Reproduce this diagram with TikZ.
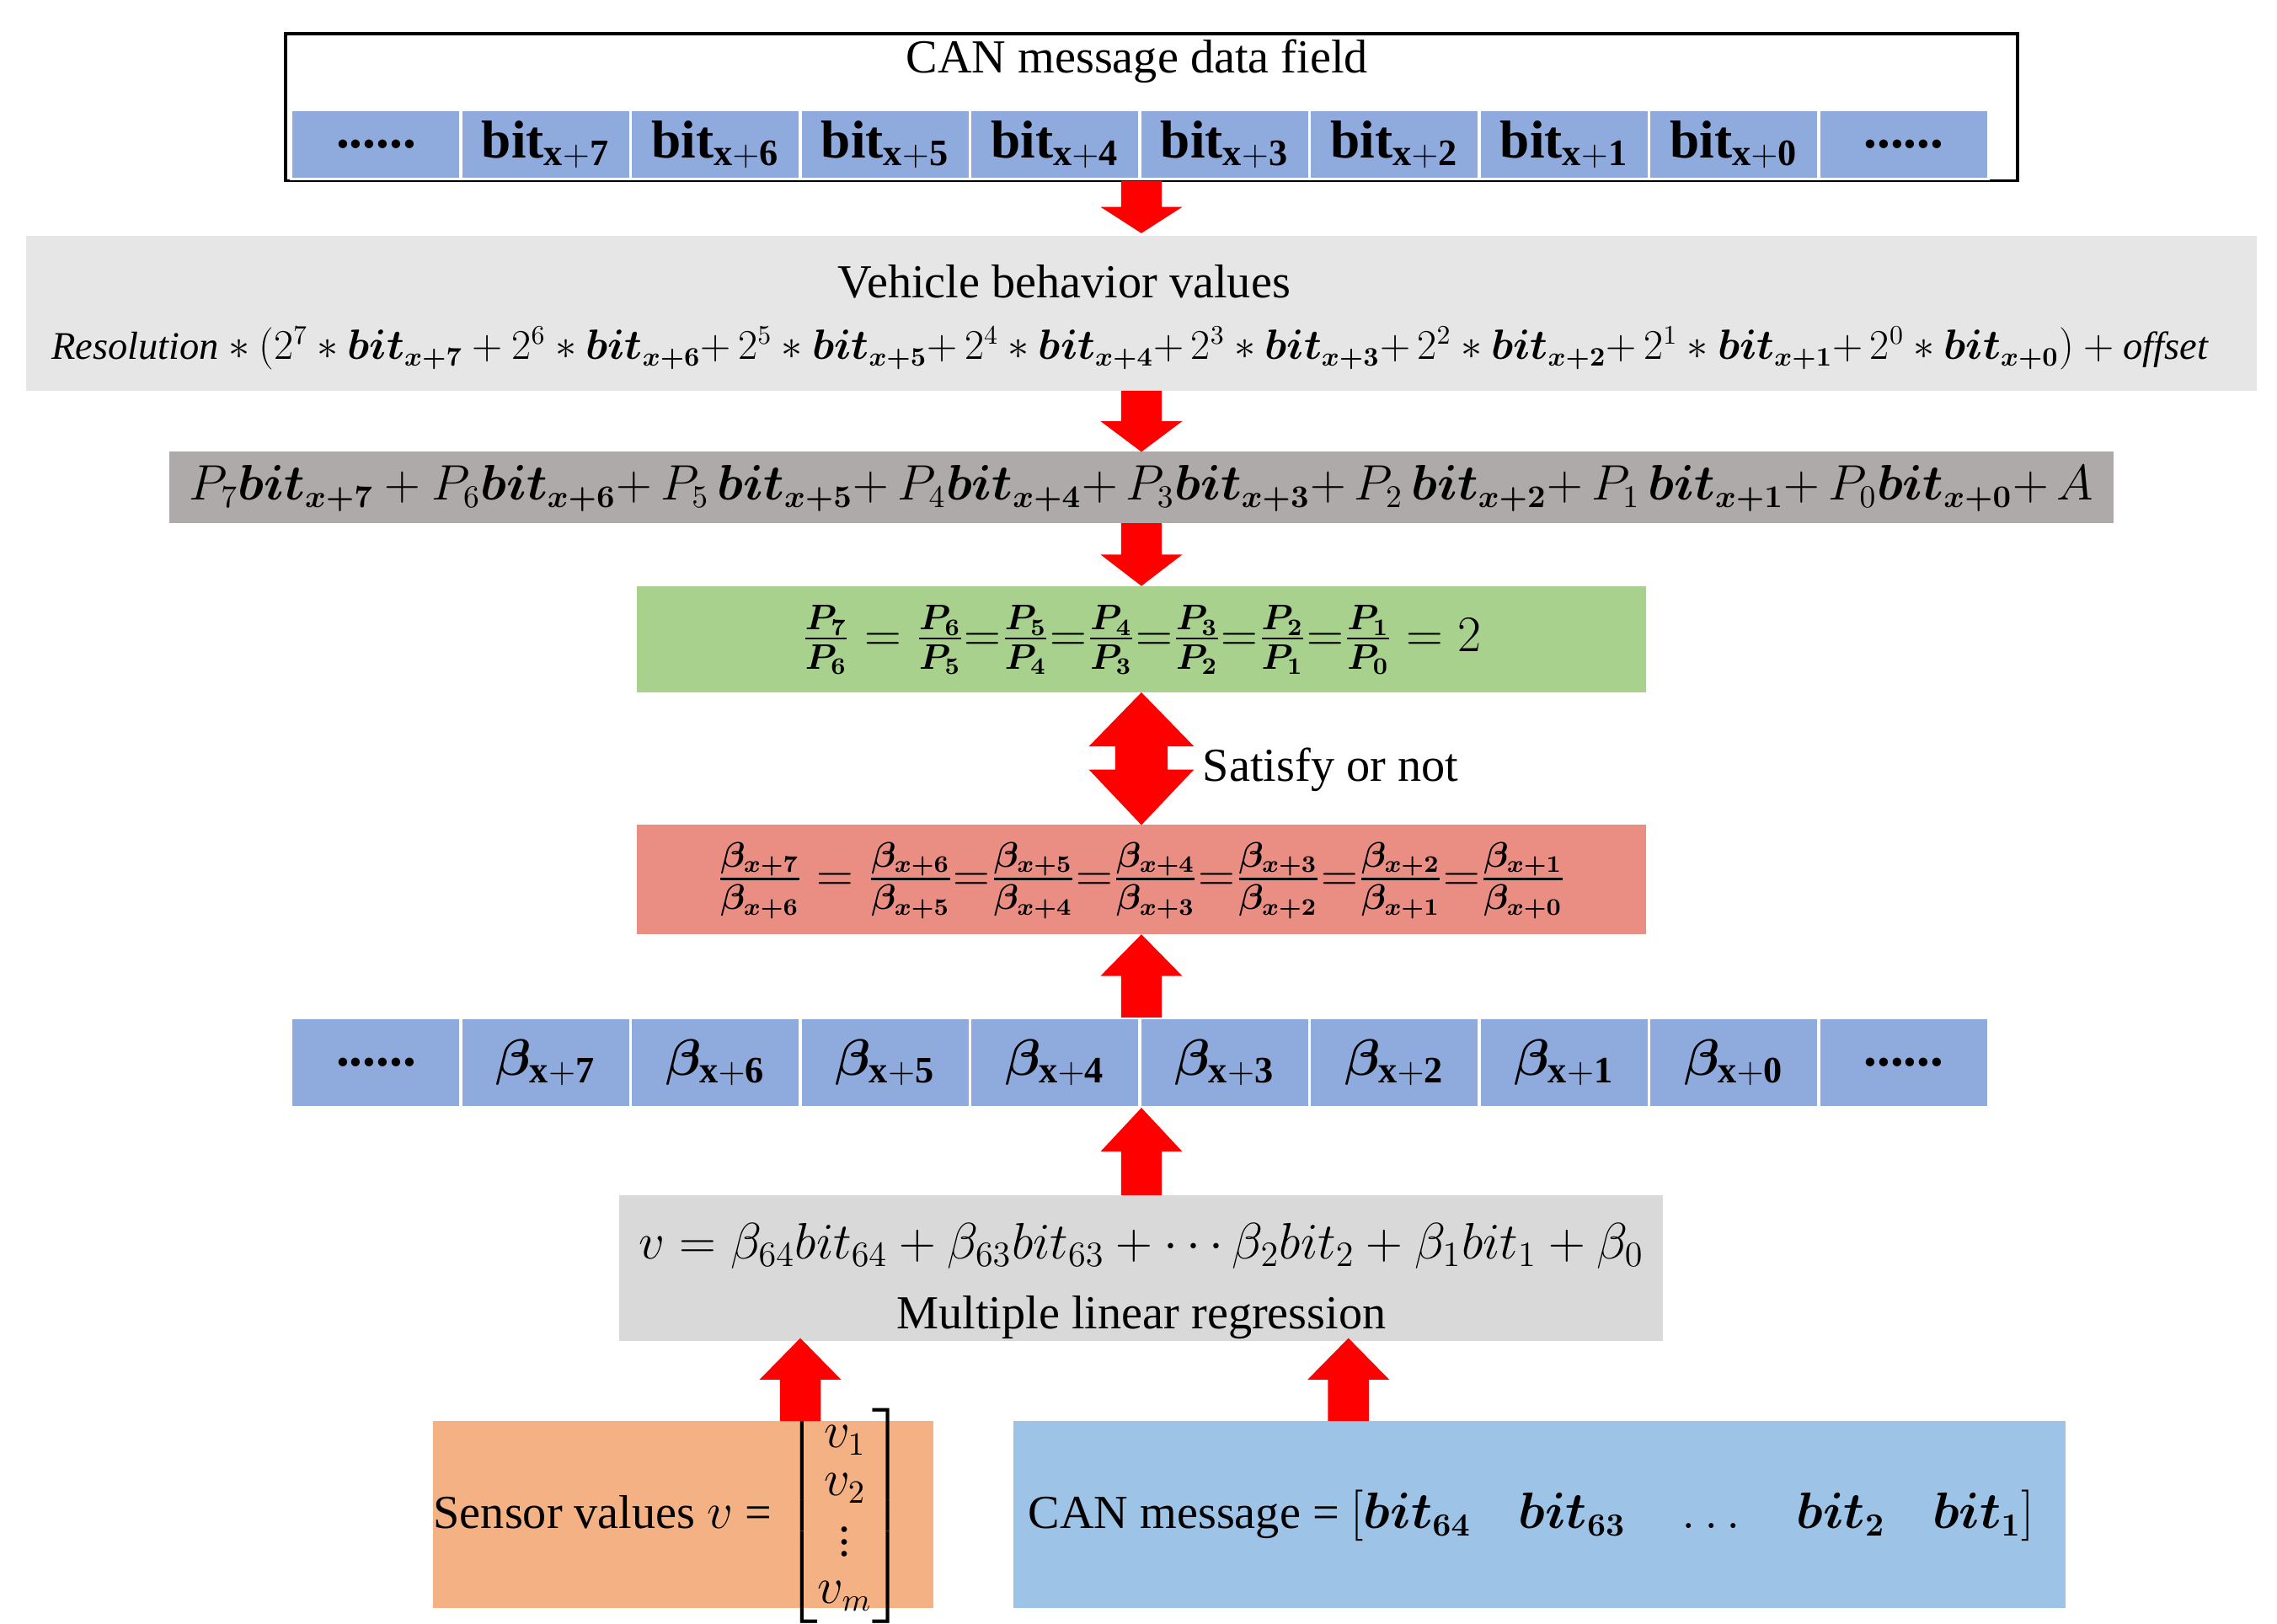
\documentclass[tikz,border=0pt]{standalone}
\usepackage{amsmath}
\usepackage{bm}
\usepackage{graphicx}
\usepackage{fontspec}
\setmainfont{Liberation Serif}
\usetikzlibrary{positioning}
\definecolor{cellblue}{HTML}{8FAADC}
\definecolor{lightgray}{HTML}{E7E6E6}
\definecolor{darkgray}{HTML}{AEAAAA}
\definecolor{lightgreen}{HTML}{A9D18E}
\definecolor{salmon}{HTML}{EA8E83}
\definecolor{midgray}{HTML}{D9D9D9}
\definecolor{orange}{HTML}{F4B183}
\definecolor{skyblue}{HTML}{9DC3E6}
\tikzstyle{cell} = [rectangle, fill=cellblue, draw=white, line width=1pt, outer sep=0pt, minimum width=20.15mm, minimum height=8.2mm, inner sep=0pt, font=\fontsize{18}{22}\selectfont\bfseries]
\tikzstyle{bigarrow} = [fill=red, draw=none]
% block arrow: x, tail y, tip y
\newcommand{\blockarrow}[3]{\fill[bigarrow] (#1-14,#2) -- (#1+14,#2) -- ($(#1+14,#3)!0.5!(#1+14,#2)$) -- ++(14,0) -- (#1,#3) -- ($(#1-28,#3)!0.5!(#1-28,#2)$) -- ++(14,0) -- cycle;}
\newcommand{\bb}[1]{\boldsymbol{bit_{x+#1}}}
\newcommand{\bbit}[1]{bit$_{\mathbf{x+#1}}$}
\newcommand{\bbeta}[1]{$\bm{\beta}_{\mathbf{x+#1}}$}
\usetikzlibrary{calc}
\begin{document}
\begin{tikzpicture}[x=0.17305mm, y=-0.17305mm, font=\fontsize{16}{19}\selectfont]
    \useasboundingbox (0,0) rectangle (1562,1114);

    % top frame with the bit cells
    \draw[line width=1pt] (196,23) rectangle (1384,124);
    \node (title) at (780,42) {CAN message data field};
    \node (c0) [cell] at (258,99) {......};
    \node (c1) [cell, right=0pt of c0] {\bbit{7}};
    \node (c2) [cell, right=0pt of c1] {\bbit{6}};
    \node (c3) [cell, right=0pt of c2] {\bbit{5}};
    \node (c4) [cell, right=0pt of c3] {\bbit{4}};
    \node (c5) [cell, right=0pt of c4] {\bbit{3}};
    \node (c6) [cell, right=0pt of c5] {\bbit{2}};
    \node (c7) [cell, right=0pt of c6] {\bbit{1}};
    \node (c8) [cell, right=0pt of c7] {\bbit{0}};
    \node (c9) [cell, right=0pt of c8] {......};

    % value boxes
    \fill[lightgray] (18,162) rectangle (1548,268);
    \node (veh) at (730,193) {Vehicle behavior values};
    \node (res) at (775,239) {\resizebox{25.6cm}{!}{$\mathit{Resolution}*(2^7*\bb{7}+2^6*\bb{6}{+}\,2^5*\bb{5}{+}\,2^4*\bb{4}{+}\,2^3*\bb{3}{+}\,2^2*\bb{2}{+}\,2^1*\bb{1}{+}\,2^0*\bb{0})+\mathit{offset}$}};

    \fill[darkgray] (116,310) rectangle (1450,359);
    \node (poly) at (783,335) {\resizebox{22.6cm}{!}{$P_7\bb{7}+P_6\bb{6}{+}\,P_5\,\bb{5}{+}\,P_4\bb{4}{+}\,P_3\bb{3}{+}\,P_2\,\bb{2}{+}\,P_1\,\bb{1}{+}\,P_0\bb{0}{+}\,A$}};

    \fill[lightgreen] (437,402) rectangle (1129,475);
    \node (ratio) at (783,439) {\fontsize{17}{20}\selectfont$\frac{\bm{P_7}}{\bm{P_6}}=\frac{\bm{P_6}}{\bm{P_5}}{=}\frac{\bm{P_5}}{\bm{P_4}}{=}\frac{\bm{P_4}}{\bm{P_3}}{=}\frac{\bm{P_3}}{\bm{P_2}}{=}\frac{\bm{P_2}}{\bm{P_1}}{=}\frac{\bm{P_1}}{\bm{P_0}}=2$};

    \fill[salmon] (437,566) rectangle (1129,641);
    \node (beta) at (783,604) {\fontsize{17}{20}\selectfont$\frac{\bm{\beta_{x+7}}}{\bm{\beta_{x+6}}}=\frac{\bm{\beta_{x+6}}}{\bm{\beta_{x+5}}}{=}\frac{\bm{\beta_{x+5}}}{\bm{\beta_{x+4}}}{=}\frac{\bm{\beta_{x+4}}}{\bm{\beta_{x+3}}}{=}\frac{\bm{\beta_{x+3}}}{\bm{\beta_{x+2}}}{=}\frac{\bm{\beta_{x+2}}}{\bm{\beta_{x+1}}}{=}\frac{\bm{\beta_{x+1}}}{\bm{\beta_{x+0}}}$};

    % beta cells
    \node (b0) [cell, minimum height=10.7mm] at (258,729) {......};
    \node (b1) [cell, minimum height=10.7mm, right=0pt of b0] {\bbeta{7}};
    \node (b2) [cell, minimum height=10.7mm, right=0pt of b1] {\bbeta{6}};
    \node (b3) [cell, minimum height=10.7mm, right=0pt of b2] {\bbeta{5}};
    \node (b4) [cell, minimum height=10.7mm, right=0pt of b3] {\bbeta{4}};
    \node (b5) [cell, minimum height=10.7mm, right=0pt of b4] {\bbeta{3}};
    \node (b6) [cell, minimum height=10.7mm, right=0pt of b5] {\bbeta{2}};
    \node (b7) [cell, minimum height=10.7mm, right=0pt of b6] {\bbeta{1}};
    \node (b8) [cell, minimum height=10.7mm, right=0pt of b7] {\bbeta{0}};
    \node (b9) [cell, minimum height=10.7mm, right=0pt of b8] {......};

    \fill[midgray] (425,820) rectangle (1141,920);
    \node (reg) at (783,855) {\fontsize{17.5}{21}\selectfont$v=\beta_{64}bit_{64}+\beta_{63}bit_{63}+\cdots\beta_2bit_2+\beta_1bit_1+\beta_0$};
    \node (mlr) at (783,904) {Multiple linear regression};

    \fill[orange] (297,975) rectangle (640,1103);
    \node (sens) [anchor=west, inner sep=0pt] at (297,1040) {Sensor values $v$ = {\renewcommand{\arraystretch}{0.85}$\begin{bmatrix}v_1\\ v_2\\ \vdots\\ v_m\end{bmatrix}$}};
    \fill[skyblue] (695,975) rectangle (1417,1103);
    \node (canmsg) [anchor=west, inner sep=0pt] at (705,1040) {CAN message = $[\bm{bit_{64}}\quad\bm{bit_{63}}\quad\ldots\quad\bm{bit_2}\quad\bm{bit_1}]$};

    % red block arrows
    \blockarrow{783}{124}{160}
    \blockarrow{783}{268}{310}
    \blockarrow{783}{359}{402}
    \fill[bigarrow] (765,505) -- (801,505) -- (801,528) -- (819,528) -- (783,566) -- (747,528) -- (765,528) -- cycle;
    \fill[bigarrow] (765,505) -- (801,505) -- (801,512) -- (819,512) -- (783,475) -- (747,512) -- (765,512) -- cycle;
    \node (sat) [anchor=west] at (818,528) {Satisfy or not};
    \blockarrow{783}{698}{641}
    \blockarrow{783}{820}{760}
    \blockarrow{549}{975}{918}
    \blockarrow{925}{975}{918}
\end{tikzpicture}
\end{document}
